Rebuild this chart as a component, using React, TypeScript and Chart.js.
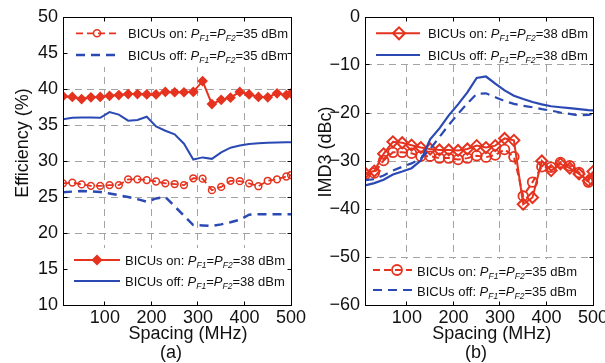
import React, { useEffect, useRef } from 'react';
import { Chart, registerables } from 'chart.js';

Chart.register(...registerables);

const FONT = "'Liberation Sans', Arial, Helvetica, sans-serif";
const RED = '#e5331f';
const BLUE = '#2b49b3';
const GRID = '#a3a3a3';
const INK = '#111111';

// ---------- data ----------
const SPACING_MHZ = [10, 30, 50, 70, 90, 110, 130, 150, 170, 190, 210, 230, 250, 270, 290, 310, 330, 350, 370, 390, 410, 430, 450, 470, 490, 500];

const EFF_ON_38 = [39.0, 38.9, 38.6, 38.85, 38.9, 39.05, 39.15, 39.3, 39.3, 39.25, 39.25, 39.6, 39.55, 39.55, 39.6, 41.1, 37.9, 38.5, 38.8, 39.6, 39.25, 38.9, 38.85, 39.4, 39.15, 39.4];
const EFF_OFF_38 = [35.8, 36.0, 36.05, 36.05, 36.0, 36.8, 36.45, 35.6, 35.7, 36.15, 34.8, 34.2, 33.7, 32.4, 30.2, 30.5, 30.3, 31.2, 31.85, 32.15, 32.35, 32.45, 32.55, 32.58, 32.6, 32.62];
const EFF_ON_35 = [26.9, 27.0, 26.75, 26.55, 26.55, 26.65, 26.65, 27.45, 27.45, 27.35, 27.15, 26.9, 26.8, 26.65, 27.6, 27.55, 25.95, 26.4, 27.25, 27.2, 26.9, 26.5, 27.25, 27.45, 27.85, 28.05];
const EFF_OFF_35 = [25.65, 25.75, 25.83, 25.8, 25.7, 25.5, 25.25, 25.0, 24.7, 24.35, 24.8, 25.0, 23.7, 22.4, 21.1, 21.05, 20.97, 21.2, 21.5, 21.85, 22.55, 22.6, 22.6, 22.6, 22.6, 22.6];

const IMD_ON_38 = [-32.5, -32.1, -28.5, -26.0, -26.2, -26.7, -27.2, -27.5, -27.7, -27.7, -27.8, -27.5, -26.8, -27.2, -26.8, -25.3, -25.7, -39.0, -37.6, -30.0, -32.0, -30.6, -31.5, -32.7, -34.1, -32.2];
const IMD_OFF_38 = [-35.1, -34.6, -33.9, -32.8, -32.2, -31.5, -29.9, -25.5, -23.2, -20.5, -18.2, -15.7, -12.7, -12.4, -13.9, -15.3, -16.4, -17.1, -17.7, -18.2, -18.6, -18.8, -19.0, -19.2, -19.4, -19.45];
const IMD_ON_35 = [-32.8, -32.5, -29.9, -28.2, -28.2, -28.4, -29.0, -29.0, -29.4, -29.4, -29.7, -29.4, -28.9, -29.2, -28.75, -27.6, -29.1, -37.3, -34.4, -31.2, -31.3, -30.3, -31.0, -32.4, -34.4, -33.9];
const IMD_OFF_35 = [-34.0, -33.8, -33.0, -32.0, -31.2, -30.5, -29.5, -27.5, -25.0, -22.5, -20.2, -18.0, -16.0, -15.9, -16.7, -17.5, -18.1, -18.5, -18.8, -19.2, -19.5, -19.9, -20.2, -20.5, -20.4, -20.2];

const X_TICKS = [100, 200, 300, 400, 500];
const EFF_TICKS = [10, 15, 20, 25, 30, 35, 40, 45, 50];
const IMD_TICKS = [-60, -50, -40, -30, -20, -10, 0];

// ---------- drawing helpers ----------
type Entry = {
  label: string; power: string; color: string; dash: number[]; lw: number;
  marker?: 'circle' | 'diamond'; r?: number; fill?: boolean; mlw?: number;
  x1: number; x2: number; mx?: number; ly: number; tx: number; tb: number;
};
type Box = { x: number; y: number; w: number; h: number; entries: Entry[] };
type Spec = {
  yTicks: number[];
  legends: Box[];
  yTitle: string; yTitleX: number; yTitleY: number;
  xTitleCx: number; panel: string; panelCx: number;
};

function drawMarker(ctx: CanvasRenderingContext2D, kind: string, x: number, y: number, r: number, color: string, fill: boolean, lw: number) {
  ctx.beginPath();
  if (kind === 'circle') {
    ctx.arc(x, y, r, 0, Math.PI * 2);
  } else {
    ctx.moveTo(x - r, y);
    ctx.lineTo(x, y - r);
    ctx.lineTo(x + r, y);
    ctx.lineTo(x, y + r);
    ctx.closePath();
  }
  if (fill) { ctx.fillStyle = color; ctx.fill(); }
  ctx.strokeStyle = color;
  ctx.lineWidth = lw;
  ctx.stroke();
}

function drawRich(ctx: CanvasRenderingContext2D, x: number, base: number, label: string, power: string) {
  const segs = [
    { t: label, it: false, sub: false },
    { t: 'P', it: true, sub: false },
    { t: 'F1', it: true, sub: true },
    { t: '=', it: false, sub: false },
    { t: 'P', it: true, sub: false },
    { t: 'F2', it: true, sub: true },
    { t: '=' + power + ' dBm', it: false, sub: false },
  ];
  let cx = x;
  ctx.textAlign = 'left';
  ctx.textBaseline = 'alphabetic';
  ctx.fillStyle = INK;
  for (const s of segs) {
    const size = s.sub ? 8.5 : 13;
    ctx.font = `${s.it ? 'italic ' : ''}${size}px ${FONT}`;
    ctx.fillText(s.t, cx, base + (s.sub ? 3 : 0));
    cx += ctx.measureText(s.t).width;
  }
}

function makeDecor(spec: Spec) {
  const a = (v: number) => Math.round(v - 0.5) + 0.5;
  return {
    id: 'decor',
    afterDatasetsDraw(chart: any) {
      const ctx: CanvasRenderingContext2D = chart.ctx;
      ctx.save();
      for (const box of spec.legends) {
        ctx.fillStyle = '#ffffff';
        ctx.fillRect(box.x, box.y, box.w, box.h);
        for (const e of box.entries) {
          ctx.setLineDash(e.dash);
          ctx.strokeStyle = e.color;
          ctx.lineWidth = e.lw;
          ctx.beginPath();
          ctx.moveTo(e.x1, e.ly);
          ctx.lineTo(e.x2, e.ly);
          ctx.stroke();
          ctx.setLineDash([]);
          if (e.marker) drawMarker(ctx, e.marker, e.mx!, e.ly, e.r!, e.color, !!e.fill, e.mlw || 1.5);
          drawRich(ctx, e.tx, e.tb, e.label, e.power);
        }
      }
      ctx.restore();
    },
    afterDraw(chart: any) {
      const ctx: CanvasRenderingContext2D = chart.ctx;
      const { left, right, top, bottom } = chart.chartArea;
      const L = a(left), R = a(right), T = a(top), B = a(bottom);
      ctx.save();
      ctx.setLineDash([]);
      ctx.strokeStyle = '#000';
      ctx.lineWidth = 1;
      ctx.strokeRect(L, T, R - L, B - T);
      ctx.beginPath();
      const xs = chart.scales.x, ys = chart.scales.y;
      for (const v of X_TICKS) {
        const p = a(xs.getPixelForValue(v));
        if (p > L + 1 && p < R - 1) {
          ctx.moveTo(p, B); ctx.lineTo(p, B - 4);
          ctx.moveTo(p, T); ctx.lineTo(p, T + 4);
        }
      }
      for (const v of spec.yTicks) {
        const p = a(ys.getPixelForValue(v));
        if (p > T + 1 && p < B - 1) {
          ctx.moveTo(L, p); ctx.lineTo(L + 4, p);
          ctx.moveTo(R, p); ctx.lineTo(R - 4, p);
        }
      }
      ctx.stroke();
      // titles
      ctx.fillStyle = INK;
      ctx.font = `18px ${FONT}`;
      ctx.textAlign = 'center';
      ctx.textBaseline = 'alphabetic';
      ctx.fillText('Spacing (MHz)', spec.xTitleCx, 339);
      ctx.fillText(spec.panel, spec.panelCx, 358);
      ctx.save();
      ctx.translate(spec.yTitleX, spec.yTitleY);
      ctx.rotate(-Math.PI / 2);
      ctx.fillText(spec.yTitle, 0, 0);
      ctx.restore();
      ctx.restore();
    },
  };
}

const fmt = (v: number) => (v < 0 ? '\u2212' + Math.abs(v) : String(v));

function pts(ys: number[]) {
  return SPACING_MHZ.map((x, i) => ({ x, y: ys[i] }));
}

function buildConfig(kind: 'a' | 'b'): any {
  const isA = kind === 'a';
  const yTicks = isA ? EFF_TICKS : IMD_TICKS;
  const spec: Spec = isA
    ? {
        yTicks,
        yTitle: 'Efficiency (%)', yTitleX: 28, yTitleY: 143,
        xTitleCx: 188, panel: '(a)', panelCx: 171,
        legends: [
          {
            x: 63, y: 18, w: 224, h: 49,
            entries: [
              { label: 'BICUs on: ', power: '35', color: RED, dash: [7, 4], lw: 1.8, marker: 'circle', r: 3.5, fill: false, mlw: 1.5, x1: 76, x2: 118, mx: 97, ly: 33.3, tx: 128, tb: 38.3 },
              { label: 'BICUs off: ', power: '35', color: BLUE, dash: [9, 6], lw: 2.5, x1: 76, x2: 118, ly: 55, tx: 128, tb: 60 },
            ],
          },
          {
            x: 63, y: 248, w: 228, h: 57,
            entries: [
              { label: 'BICUs on: ', power: '38', color: RED, dash: [], lw: 2, marker: 'diamond', r: 4.5, fill: true, mlw: 1.5, x1: 74, x2: 120, mx: 97, ly: 260, tx: 125, tb: 265 },
              { label: 'BICUs off: ', power: '38', color: BLUE, dash: [], lw: 2.2, x1: 74, x2: 120, ly: 281, tx: 125, tb: 285.7 },
            ],
          },
        ],
      }
    : {
        yTicks,
        yTitle: 'IMD3 (dBc)', yTitleX: 31, yTitleY: 152,
        xTitleCx: 191.7, panel: '(b)', panelCx: 176,
        legends: [
          {
            x: 65, y: 18, w: 228, h: 45,
            entries: [
              { label: 'BICUs on: ', power: '38', color: RED, dash: [], lw: 2, marker: 'diamond', r: 6, fill: false, mlw: 2, x1: 76, x2: 120, mx: 99, ly: 33.3, tx: 128, tb: 38.3 },
              { label: 'BICUs off: ', power: '38', color: BLUE, dash: [], lw: 2.2, x1: 76, x2: 120, ly: 55, tx: 128, tb: 60 },
            ],
          },
          {
            x: 65, y: 259, w: 228, h: 46,
            entries: [
              { label: 'BICUs on: ', power: '35', color: RED, dash: [7, 4], lw: 2, marker: 'circle', r: 5, fill: false, mlw: 1.8, x1: 73, x2: 112, mx: 97, ly: 270, tx: 117, tb: 275.7 },
              { label: 'BICUs off: ', power: '35', color: BLUE, dash: [9, 6], lw: 2.2, x1: 73, x2: 112, ly: 290, tx: 117, tb: 295.7 },
            ],
          },
        ],
      };

  const datasets = isA
    ? [
        { data: pts(EFF_OFF_38), borderColor: BLUE, borderWidth: 2, pointRadius: 0, order: 0 },
        { data: pts(EFF_OFF_35), borderColor: BLUE, borderWidth: 2.5, borderDash: [9, 6], pointRadius: 0, order: 0 },
        { data: pts(EFF_ON_38), borderColor: RED, borderWidth: 2, pointStyle: 'rectRot', pointRadius: 4.3, pointBorderWidth: 1.5, pointBorderColor: RED, pointBackgroundColor: RED, order: 1 },
        { data: pts(EFF_ON_35), borderColor: RED, borderWidth: 1.8, borderDash: [7, 4], pointStyle: 'circle', pointRadius: 3.4, pointBorderWidth: 1.5, pointBorderColor: RED, pointBackgroundColor: 'rgba(0,0,0,0)', order: 1 },
      ]
    : [
        { data: pts(IMD_OFF_38), borderColor: BLUE, borderWidth: 2.2, pointRadius: 0, order: 0 },
        { data: pts(IMD_OFF_35), borderColor: BLUE, borderWidth: 2.2, borderDash: [9, 6], pointRadius: 0, order: 0 },
        { data: pts(IMD_ON_38), borderColor: RED, borderWidth: 2, pointStyle: 'rectRot', pointRadius: 5.5, pointBorderWidth: 2, pointBorderColor: RED, pointBackgroundColor: 'rgba(0,0,0,0)', order: 1 },
        { data: pts(IMD_ON_35), borderColor: RED, borderWidth: 2, borderDash: [7, 4], pointStyle: 'circle', pointRadius: 4.8, pointBorderWidth: 1.8, pointBorderColor: RED, pointBackgroundColor: 'rgba(0,0,0,0)', order: 1 },
      ];

  const canvasW = isA ? 320 : 305;
  const right = isA ? 291 : 293;
  const yWidth = isA ? 63 : 65;

  return {
    type: 'line',
    data: { datasets: datasets.map((d) => ({ ...d, fill: false, tension: 0, pointHoverRadius: 0 })) },
    options: {
      animation: false,
      responsive: false,
      maintainAspectRatio: false,
      devicePixelRatio: 1,
      events: [],
      layout: { padding: { top: 17, right: canvasW - right, left: 0, bottom: 0 } },
      plugins: { legend: { display: false }, tooltip: { enabled: false } },
      scales: {
        x: {
          type: 'linear',
          min: 10,
          max: 500,
          afterBuildTicks: (s: any) => { s.ticks = X_TICKS.map((v) => ({ value: v })); },
          afterFit: (s: any) => { s.height = 58; s.paddingLeft = 0; s.paddingRight = 0; },
          ticks: { autoSkip: false, maxRotation: 0, padding: 2, color: INK, font: { size: 18, family: FONT }, callback: (v: any) => fmt(Number(v)) },
          grid: { color: GRID, lineWidth: 1, drawTicks: false },
          border: { display: false, dash: [7, 5] },
        },
        y: {
          type: 'linear',
          min: yTicks[0],
          max: yTicks[yTicks.length - 1],
          afterBuildTicks: (s: any) => { s.ticks = yTicks.map((v) => ({ value: v })); },
          afterFit: (s: any) => { s.width = yWidth; s.paddingTop = 0; s.paddingBottom = 0; },
          ticks: { autoSkip: false, padding: 5, color: INK, font: { size: 18, family: FONT }, callback: (v: any) => fmt(Number(v)) },
          grid: { color: GRID, lineWidth: 1, drawTicks: false },
          border: { display: false, dash: [7, 5] },
        },
      },
    },
    plugins: [makeDecor(spec)],
  };
}

function Panel({ kind, left, width }: { kind: 'a' | 'b'; left: number; width: number }) {
  const ref = useRef<HTMLCanvasElement>(null);
  useEffect(() => {
    const chart = new Chart(ref.current as HTMLCanvasElement, buildConfig(kind));
    return () => chart.destroy();
  }, [kind]);
  return (
    <canvas
      ref={ref}
      width={width}
      height={363}
      style={{ position: 'absolute', left, top: 0, width, height: 363 }}
    />
  );
}

export default function App() {
  return (
    <div style={{ position: 'absolute', left: 0, top: 0, width: 605, height: 363, overflow: 'hidden', background: '#fff' }}>
      <Panel kind="a" left={0} width={320} />
      <Panel kind="b" left={300} width={305} />
    </div>
  );
}
